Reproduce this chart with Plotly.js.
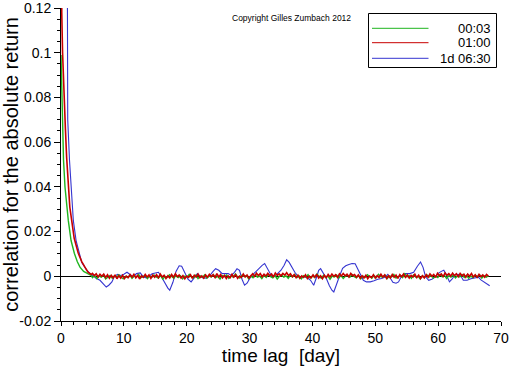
<!DOCTYPE html>
<html>
<head>
<meta charset="utf-8">
<script src="https://cdn.plot.ly/plotly-3.0.1.min.js"></script>
<style>html,body{margin:0;padding:0;background:#fff;}#chart{width:512px;height:366px;}</style>
</head>
<body>
<div id="chart"></div>
<script>
// ---- data ----
const seriesNames = ['00:03', '01:00', '1d 06:30'];
const seriesColors = ['#1fb51f', '#c80000', '#3535d0'];

// green (00:03) — fast decay then noise around zero
const greenHeadLag = [0.002, 0.1, 0.21, 0.4, 0.64, 0.9, 1.16, 1.6, 2.12, 2.6, 3.02, 3.6, 4.3, 4.8];
const greenHeadVal = [0.099, 0.085, 0.0696, 0.052, 0.0398, 0.031, 0.025, 0.016, 0.0103, 0.0065, 0.0041, 0.0022, 0.0010, 0.0004];
const greenTailStart = 5.0, greenTailStep = 0.35;
const greenTailVal = [
 -0.0006, 0.0003, -0.0010, 0.0001, -0.0004, 0.0006, -0.0012, -0.0002, 0.0004, -0.0008, 0.0002, -0.0005, 0.0007, -0.0003, -0.0011, 0.0000, -0.0006, 0.0005, -0.0009, 0.0002, -0.0004, 0.0008, -0.0007, -0.0001, 0.0004, -0.0010, 0.0001, -0.0005, 0.0006, -0.0003,
 -0.0008, 0.0003, -0.0012, 0.0000, -0.0005, 0.0007, -0.0002, -0.0009, 0.0004, -0.0006, 0.0002, -0.0011, 0.0001, -0.0004, 0.0009, -0.0003, -0.0007, 0.0005, -0.0010, 0.0002, -0.0005, 0.0006, -0.0008, 0.0001, -0.0003, 0.0008, -0.0006, 0.0000, -0.0012, 0.0004,
 -0.0002, 0.0006, -0.0009, 0.0001, -0.0004, 0.0010, -0.0003, -0.0008, 0.0005, -0.0001, 0.0003, -0.0011, 0.0002, -0.0006, 0.0007, -0.0004, 0.0001, -0.0010, 0.0004, -0.0005, 0.0009, -0.0002, -0.0007, 0.0003, -0.0012, 0.0000, 0.0006, -0.0004, 0.0002, -0.0009,
 0.0005, -0.0003, 0.0008, -0.0006, 0.0001, -0.0011, 0.0003, -0.0004, 0.0007, -0.0008, 0.0002, -0.0005, 0.0010, -0.0001, -0.0009, 0.0004, -0.0006, 0.0002, -0.0013, 0.0001, -0.0003, 0.0006, -0.0007, 0.0003, -0.0010, 0.0000, 0.0005, -0.0004, 0.0008, -0.0002,
 -0.0007, 0.0004, -0.0011, 0.0001, -0.0005, 0.0007, -0.0002, -0.0009, 0.0003, -0.0006, 0.0009, -0.0001, -0.0004, 0.0005, -0.0010, 0.0002, -0.0003, 0.0008, -0.0008, 0.0000, 0.0004, -0.0006, 0.0011, -0.0002, 0.0003, -0.0009, 0.0006, -0.0004, 0.0001, -0.0012,
 0.0002, -0.0005, 0.0007, -0.0003, 0.0004, -0.0008, 0.0001, -0.0006, 0.0009, -0.0002, 0.0005, -0.0010, 0.0003, -0.0004, 0.0006, -0.0007, 0.0002, -0.0003, 0.0008, -0.0005, 0.0004, -0.0009, 0.0001, -0.0006, 0.0005, -0.0002, 0.0007, -0.0008, 0.0003, -0.0004, 0.0002
];

// red (01:00)
const redHeadLag = [0.04, 0.12, 0.25, 0.4, 0.5, 0.7, 0.9, 1.16, 1.4, 1.7, 2.1, 2.75, 3.3, 3.8, 4.3, 4.8];
const redHeadVal = [0.25, 0.118, 0.1, 0.085, 0.078, 0.066, 0.053, 0.040, 0.031, 0.025, 0.017, 0.0103, 0.0066, 0.0041, 0.0018, 0.0008];
const redTailStart = 5.0, redTailStep = 0.3;
const redTailVal = [
 0.0013, 0.0003, 0.0011, -0.0003, 0.0009, 0.0000, 0.0010, -0.0005, 0.0007, -0.0009, 0.0004, -0.0007, 0.0006, -0.0011, 0.0002, -0.0008, 0.0005, -0.0010, 0.0001, -0.0006, 0.0007, -0.0004, 0.0009, -0.0007, 0.0004, -0.0012, 0.0002, -0.0005, 0.0008, -0.0003, 0.0006, -0.0009, 0.0005, -0.0004,
 0.0007, -0.0006, 0.0010, -0.0003, 0.0005, -0.0010, 0.0002, -0.0007, 0.0008, -0.0004, 0.0011, -0.0002, 0.0006, -0.0008, 0.0003, -0.0011, 0.0001, -0.0005, 0.0007, -0.0009, 0.0005, -0.0003, 0.0010, -0.0006, 0.0002, -0.0008, 0.0006, -0.0004, 0.0009, -0.0001, 0.0007, -0.0005, 0.0012,
 -0.0003, 0.0008, -0.0007, 0.0004, -0.0010, 0.0002, -0.0006, 0.0009, -0.0004, 0.0007, -0.0009, 0.0001, -0.0005, 0.0010, -0.0003, 0.0006, -0.0008, 0.0003, 0.0011, 0.0000, 0.0014, 0.0003, 0.0012, -0.0002, 0.0009, 0.0001, 0.0013, 0.0002, 0.0010, -0.0003, 0.0015, 0.0004, 0.0011,
 0.0002, 0.0013, 0.0005, 0.0016, 0.0003, 0.0011, -0.0002, 0.0008, -0.0006, 0.0005, -0.0009, 0.0002, -0.0005, 0.0007, -0.0010, 0.0001, -0.0007, 0.0006, -0.0004, 0.0009, -0.0008, 0.0002, -0.0011, 0.0005, -0.0006, 0.0008, -0.0003, 0.0010, 0.0000, 0.0007, -0.0005, 0.0011, 0.0001,
 0.0012, 0.0002, 0.0009, -0.0003, 0.0013, 0.0003, 0.0008, -0.0004, 0.0006, -0.0009, 0.0002, -0.0007, 0.0005, -0.0011, 0.0001, -0.0006, 0.0007, -0.0008, 0.0003, -0.0005, 0.0009, -0.0003, 0.0006, -0.0010, 0.0002, -0.0007, 0.0008, -0.0004, 0.0005, -0.0009, 0.0007, -0.0002, 0.0010,
 -0.0005, 0.0006, -0.0008, 0.0004, -0.0003, 0.0009, -0.0006, 0.0005, -0.0010, 0.0002, -0.0007, 0.0007, -0.0004, 0.0011, 0.0000, 0.0008, -0.0005, 0.0013, 0.0002, 0.0010, -0.0001, 0.0015, 0.0004, 0.0012, 0.0001, 0.0014, 0.0003, 0.0011, -0.0002, 0.0013, 0.0002, 0.0009, -0.0004, 0.0010, 0.0000, 0.0012, -0.0003, 0.0007, -0.0005, 0.0009, -0.0001, 0.0006, -0.0004, 0.0008, 0.0001
];

// blue (1d 06:30)
const blueLag = [0.95, 1.07, 1.35, 1.6, 1.96, 2.4, 2.86, 3.3, 3.8, 4.1, 4.6, 5.1, 5.65, 6.2, 6.7, 7.2, 7.6, 8.1, 8.5, 9.0, 9.5, 10.0, 10.5, 11.0, 11.5, 12.0, 12.6, 13.1, 13.6, 14.0, 14.5, 15.0, 15.5, 16.0, 16.5, 17.0, 17.3, 17.8, 18.3, 18.8, 19.2, 19.7, 20.2, 20.7, 21.2, 21.7, 22.2, 22.7, 23.2, 23.7, 24.2, 24.6, 25.1, 25.6, 26.1, 26.6, 27.1, 27.6, 28.0, 28.4, 28.8, 29.2, 29.6, 30.0, 30.5, 31.0, 31.5, 32.0, 32.4, 32.8, 33.2, 33.6, 34.0, 34.5, 35.0, 35.5, 35.9, 36.3, 36.7, 37.2, 37.7, 38.2, 38.7, 39.2, 39.7, 40.2, 40.6, 41.0, 41.3, 41.7, 42.2, 42.7, 43.1, 43.4, 43.8, 44.3, 44.8, 45.3, 45.8, 46.3, 46.8, 47.3, 47.7, 48.1, 48.6, 49.2, 49.8, 50.4, 51.0, 51.6, 52.0, 52.4, 52.8, 53.3, 53.7, 54.2, 54.8, 55.5, 56.1, 56.7, 57.2, 57.6, 58.0, 58.5, 59.0, 59.5, 60.0, 60.5, 60.9, 61.3, 61.8, 62.2, 62.7, 63.2, 63.6, 64.0, 64.6, 65.2, 65.8, 66.4, 66.8, 67.3, 67.8, 68.2];
const blueVal = [0.20, 0.070, 0.052, 0.040, 0.025, 0.016, 0.0103, 0.0062, 0.0041, 0.0027, 0.0013, 0.0000, -0.0010, -0.0018, -0.0031, -0.0048, -0.0040, -0.0025, 0.0000, 0.0009, 0.0004, 0.0009, 0.0018, 0.0009, -0.0003, 0.0012, 0.0015, -0.0003, -0.0007, 0.0000, 0.0011, 0.0015, 0.0018, -0.0003, -0.0031, -0.0053, -0.0062, -0.0027, 0.0022, 0.0047, 0.0045, 0.0018, -0.0013, -0.0025, -0.0004, 0.0012, -0.0002, -0.0009, -0.0007, 0.0004, 0.0022, 0.0034, 0.0027, 0.0013, 0.0012, 0.0012, 0.0004, 0.0018, 0.0034, 0.0027, -0.0013, -0.0040, -0.0031, -0.0011, 0.0007, 0.0022, 0.0036, 0.0049, 0.0057, 0.0036, 0.0011, -0.0004, 0.0000, 0.0016, 0.0027, 0.0049, 0.0074, 0.0062, 0.0040, 0.0018, 0.0000, -0.0004, -0.0002, -0.0007, -0.0018, -0.0040, -0.0009, 0.0027, 0.0034, 0.0016, -0.0009, -0.0042, -0.0062, -0.0070, -0.0036, 0.0000, 0.0036, 0.0047, 0.0053, 0.0057, 0.0056, 0.0027, -0.0002, -0.0018, -0.0025, -0.0025, -0.0020, -0.0013, -0.0010, -0.0003, 0.0009, -0.0009, -0.0027, -0.0031, -0.0025, 0.0002, 0.0012, 0.0012, 0.0018, 0.0045, 0.0064, 0.0040, -0.0002, -0.0018, -0.0013, -0.0004, 0.0013, 0.0022, 0.0027, 0.0007, -0.0025, -0.0013, 0.0007, 0.0009, 0.0002, -0.0018, -0.0018, -0.0011, -0.0007, -0.0004, -0.0016, -0.0025, -0.0036, -0.0042];

const yTickVals = [-0.02, 0, 0.02, 0.04, 0.06, 0.08, 0.1, 0.12];
const yTickText = ['-0.02', '0', '0.02', '0.04', '0.06', '0.08', '0.1', '0.12'];
const xTickVals = [0, 10, 20, 30, 40, 50, 60, 70];
const xTickText = ['0', '10', '20', '30', '40', '50', '60', '70'];

// ---- build traces ----
function buildTail(start, step, vals) {
  const x = [];
  for (let i = 0; i < vals.length; i++) x.push(+(start + i * step).toFixed(3));
  return x;
}
const greenX = greenHeadLag.concat(buildTail(greenTailStart, greenTailStep, greenTailVal));
const greenY = greenHeadVal.concat(greenTailVal);
const redX = redHeadLag.concat(buildTail(redTailStart, redTailStep, redTailVal));
const redY = redHeadVal.concat(redTailVal);

const traces = [
  {x: blueLag, y: blueVal, mode: 'lines', line: {color: seriesColors[2], width: 1.1}, name: seriesNames[2]},
  {x: greenX, y: greenY, mode: 'lines', line: {color: seriesColors[0], width: 1.4}, name: seriesNames[0]},
  {x: redX, y: redY, mode: 'lines', line: {color: seriesColors[1], width: 1.6}, name: seriesNames[1]}
];

// ---- manual legend (box with right-aligned labels) ----
const L = 61, R = 501, T = 8, B = 321;
const px = v => (v - L) / (R - L);
const py = v => (B - v) / (B - T);
const legendRowsY = [28.3, 42.7, 58.3];
const shapes = [{type: 'rect', xref: 'paper', yref: 'paper', x0: px(368.5), x1: px(496.5), y0: py(67.5), y1: py(13.5), line: {color: '#000', width: 1}, fillcolor: '#fff', layer: 'above'}];
const annotations = [{xref: 'paper', yref: 'paper', x: px(291.5), y: py(18), text: 'Copyright Gilles Zumbach 2012', showarrow: false, font: {family: 'Liberation Sans, Arial, sans-serif', size: 8.5, color: '#000'}, xanchor: 'center', yanchor: 'middle'}];
for (let i = 0; i < 3; i++) {
  shapes.push({type: 'line', xref: 'paper', yref: 'paper', x0: px(372), x1: px(428.5), y0: py(legendRowsY[i]), y1: py(legendRowsY[i]), line: {color: seriesColors[i], width: 1}, layer: 'above'});
  annotations.push({xref: 'paper', yref: 'paper', x: px(493), y: py(legendRowsY[i]), text: seriesNames[i], showarrow: false, xanchor: 'right', yanchor: 'middle', font: {family: 'Liberation Sans, Arial, sans-serif', size: 13, color: '#000'}});
}

const layout = {
  width: 512, height: 366,
  margin: {l: L, r: 512 - R, t: T, b: 366 - B},
  paper_bgcolor: '#fff', plot_bgcolor: '#fff',
  showlegend: false,
  font: {family: 'Liberation Sans, Arial, sans-serif', color: '#000'},
  xaxis: {
    range: [0, 70.0001], tickmode: 'array', tickvals: xTickVals, ticktext: xTickText,
    ticks: 'outside', ticklen: 4, tickcolor: '#000', tickwidth: 1, ticklabeloverflow: 'allow',
    minor: {tickmode: 'linear', tick0: 0, dtick: 2, ticks: 'outside', ticklen: 3, tickcolor: '#000'},
    showline: true, linecolor: '#000', linewidth: 1, showgrid: false, zeroline: false,
    tickfont: {size: 14, color: '#000'},
    title: {text: 'time lag  [day]', font: {size: 19, color: '#000'}, standoff: 9}
  },
  yaxis: {
    range: [-0.02, 0.12002], tickmode: 'array', tickvals: yTickVals, ticktext: yTickText,
    ticks: 'outside', ticklen: 6, tickcolor: '#000', tickwidth: 1, ticklabeloverflow: 'allow',
    minor: {tickmode: 'linear', tick0: 0, dtick: 0.005, ticks: 'outside', ticklen: 3, tickcolor: '#000'},
    showline: true, linecolor: '#000', linewidth: 1, showgrid: false,
    zeroline: true, zerolinecolor: '#000', zerolinewidth: 1.5,
    tickfont: {size: 14, color: '#000'},
    title: {text: 'correlation for the absolute return', font: {size: 20, color: '#000'}, standoff: 4}
  },
  shapes: shapes,
  annotations: annotations
};

Plotly.newPlot('chart', traces, layout, {displayModeBar: false, staticPlot: true});
</script>
</body>
</html>
